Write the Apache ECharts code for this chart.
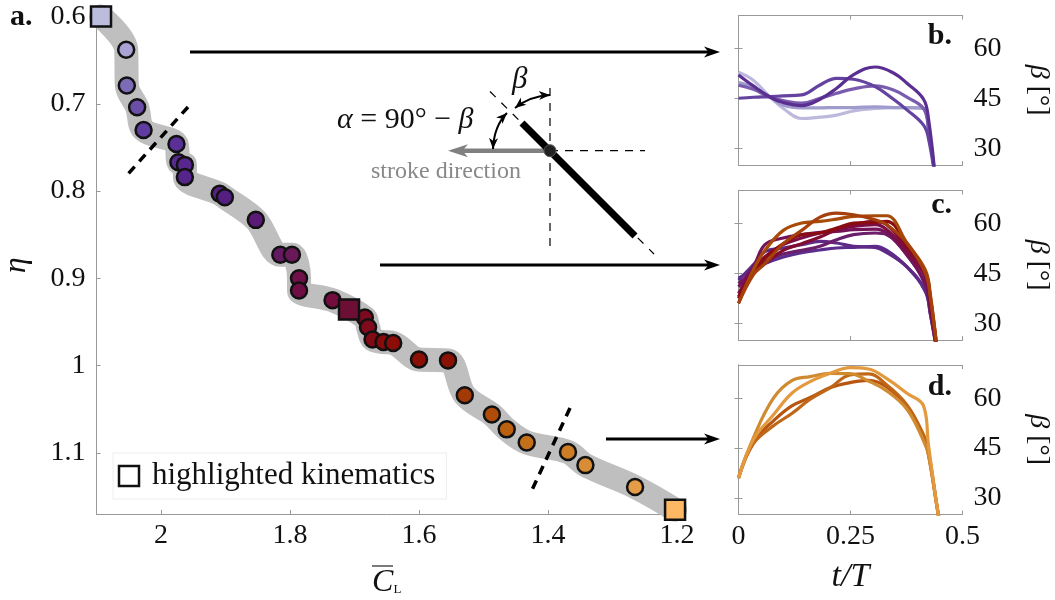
<!DOCTYPE html>
<html><head><meta charset="utf-8">
<style>html,body{margin:0;padding:0;background:#fff}#c{width:1055px;height:600px}</style>
<script src="https://cdn.jsdelivr.net/npm/echarts@6/dist/echarts.min.js"></script>
</head><body><div id="c"></div>
<script>
const FONT = '"Liberation Serif"';
// main panel
const cl = [2.054,2.053,2.037,2.027,1.976,1.973,1.963,1.963,1.909,1.901,1.853,1.815,1.797,1.786,1.786,1.734,1.684,1.679,1.672,1.655,1.640,1.600,1.555,1.529,1.487,1.464,1.433,1.369,1.342,1.265];
const eta = [.638,.679,.704,.730,.746,.767,.770,.784,.803,.807,.833,.873,.873,.900,.914,.925,.945,.956,.970,.973,.974,.993,.994,1.034,1.056,1.073,1.088,1.099,1.114,1.139];
const pointColors = ['#a8a3d2','#7d6bb5','#6a4ea8','#5f3da0','#5a2f96','#58298f','#57278d','#56258b','#562085','#551f82','#5a1a75','#641a60','#6a1858','#6f1048','#6f0e44','#730d3f','#7f0a20','#810a1c','#820a14','#880a0a','#8b0c08','#8c0f05','#8a1202','#a33a06','#b04c08','#bb5f10','#c4701a','#cd7d25','#d88c33','#e59c47'];
const squareCl = [2.093,1.7085,1.203];
const squareEta = [.6,.9356,1.165];
const squareColors = ['#bcbddc','#6d0f35','#fdb863'];
const clTicks = [2,1.8,1.6,1.4,1.2];
const etaTicks = [.6,.7,.8,.9,1,1.1];
const betaTicks = [30,45,60];
const tTicks = [0,.25,.5];
// panel b
const tB = [0,.033,.071,.1,.141,.182,.219,.257,.305,.346,.376,.413,.424,.44];
const b1 = [52.9,50.5,45.4,42,39,39.4,40,41.3,42,42.3,42.3,42,36,20];
const b2 = [49.8,48.4,45.4,43,42.2,42.2,42.3,42.3,42.5,42.3,42.3,42,36,20];
const b3 = [49,47.8,45.4,44.4,43.6,45.1,46.6,47.9,48.8,47.6,45.4,42,36,20];
const b4 = [45.1,45.4,45.6,45.8,46.1,49.1,51.1,50.8,48.6,44.8,41.6,37,33,20];
const b5 = [52.1,48.8,45.4,43.8,42.9,44.8,48.1,52.2,54.5,52.7,49.6,44.8,39,20];
const bColors = ['#bcb9dd','#9f9bcc','#7a5cae','#6443a0','#5b2f91'];
// panel c
const tC = [0,.033,.059,.1,.141,.182,.219,.257,.305,.331,.376,.417,.428,.445];
const c1 = [43.6,46.1,48,50,51.3,52.1,52.7,52.9,53.2,52,47,39.6,33,20];
const c2 = [43,47.6,51.6,52.7,53.7,54.7,54.2,53.2,52.9,51.3,47,40,33,20];
const c3 = [42,45.6,48.6,50.9,52,53.2,55.2,56.7,57.2,56.7,50.6,41.6,34,20];
const c4 = [41,46.9,53.7,55.7,56.7,57.4,57.7,58.2,58.4,57.2,50.6,42.1,35,20];
const c5 = [39,46.1,50.1,53.7,55.7,57.2,58.2,59.2,59.7,58.2,51.6,44,36,20];
const c6 = [38,45.1,48,52,54,56,58.2,59.7,60.7,59.7,52.6,45.1,37,20];
const c7 = [37.5,45.6,49.6,54,56.7,57.2,58.7,60.2,60.4,60.7,53.7,45.6,38,20];
const c8 = [36,46.1,52,58,60.2,60.7,61.4,62.2,62.4,62.4,54.2,46.1,39,20];
const c9 = [36,44.6,48,54,58,62,63.2,62.7,61.2,59.7,54.2,45.1,38,20];
const cColors = ['#5b2d8e','#5e2a85','#6b1f6b','#74125a','#7a0e48','#800c30','#8a0c10','#a84a08','#a5400c'];
// panel d
const tD = [0,.033,.078,.119,.160,.205,.249,.290,.331,.376,.413,.424,.446,.46];
const d1 = [36,46.9,53.2,57.7,60.2,63.2,64.7,65.4,63.4,57.2,48.1,43,25,15];
const d2 = [36,46.3,51.7,55.4,59.7,63.2,67,67.3,64,58,49,44,25,15];
const d3 = [36,48,60,65.3,66.5,67.5,67.4,65.2,62.2,56.7,47.2,43,25,15];
const d4 = [36,47.5,55,61.5,65,67.5,69.2,68.8,65.9,61.5,57.7,46,25,15];
const dColors = ['#b8560f','#bf6716','#d08a30','#e39a3e'];

const black = '#000';
const axisGray = '#999';
const labelStyle = {color:'#111',fontFamily:FONT,fontSize:28};
const G = [];
function line(x1,y1,x2,y2,w,color,dash){
  G.push({type:'line',z:100,shape:{x1,y1,x2,y2},style:{stroke:color||black,lineWidth:w,lineDash:dash||null,fill:null}});
}
function head(x,y,ang,len,hw,color){
  const c=Math.cos(ang),s=Math.sin(ang);
  const bx=x-c*len,by=y-s*len, mx=x-c*len*.72,my=y-s*len*.72;
  G.push({type:'polygon',z:101,shape:{points:[[x,y],[bx-s*hw,by+c*hw],[mx,my],[bx+s*hw,by-c*hw]]},style:{fill:color||black,stroke:null}});
}
function text(x,y,t,font,fill,align,rich){
  const style={text:t,font,fill:fill||'#111',textAlign:align||'left',textVerticalAlign:'middle'};
  if(rich) style.rich=rich;
  G.push({type:'text',z:102,x,y,style});
}
function arc(x1,y1,cx,cy,x2,y2){
  G.push({type:'bezierCurve',z:100,shape:{x1,y1,x2,y2,cpx1:cx,cpy1:cy},style:{stroke:black,lineWidth:2,fill:null}});
  head(x1,y1,Math.atan2(y1-cy,x1-cx),11,4.5);
  head(x2,y2,Math.atan2(y2-cy,x2-cx),11,4.5);
}
// long arrows
[[190,52,720],[380,265,720],[606,439,720]].forEach(a=>{line(a[0],a[1],a[2]-10,a[1],3);head(a[2],a[1],0,16,5.5);});
// separators
line(188,107,128,174,3.5,black,[9,7]);
line(570,408,532,490,3.5,black,[9,7]);
// wing diagram
line(490,91.5,654,254,1.2,black,[8,8]);
line(550,88,550,250,1.2,black,[8,7]);
line(550,150.7,645,150.7,1.2,black,[8,7]);
line(550,150.7,460,150.7,4.5,'#808080');
head(448,150.7,Math.PI,20,6.5,'#808080');
line(522,123,635,236,7);
G.push({type:'circle',z:103,shape:{cx:550,cy:150.7,r:6},style:{fill:'#222',stroke:'#555',lineWidth:1}});
arc(515,108,530,96,550,95);
arc(507,113,494,126,493,149);
text(337,120,'{i|α} = 90° − {i|β}','30px '+FONT,'#111','left',{i:{font:'italic 30px '+FONT,fill:'#111'}});
text(512,80,'β','italic 31px '+FONT);
text(371,172,'stroke direction','24px '+FONT,'#888');
// legend
G.push({type:'rect',z:99,shape:{x:113,y:453,width:333.5,height:46},style:{fill:'#fff',stroke:'#eee',lineWidth:1}});
G.push({type:'rect',z:100,shape:{x:119,y:466,width:20,height:20},style:{fill:'#fff',stroke:'#111',lineWidth:2.5}});
text(152,476,'highlighted kinematics','31px '+FONT);
// panel labels
text(10,17,'a.','bold 30px '+FONT);
text(952,36,'b.','bold 30px '+FONT,'#111','right');
text(952,205,'c.','bold 30px '+FONT,'#111','right');
text(952,387,'d.','bold 30px '+FONT,'#111','right');
// overbar for the lift coefficient
line(372,566,393,566,1.2,'#222');

const grids=[{left:96.5,top:16.5,width:580.5,height:497.5,outerBoundsMode:'none'}];
const xAxes=[{gridIndex:0,type:'value',inverse:true,min:1.2,max:2.1,position:'bottom',
  axisLine:{lineStyle:{color:axisGray,width:1}},splitLine:{show:false},
  axisTick:{inside:true,length:4,lineStyle:{color:axisGray},customValues:clTicks},
  axisLabel:{...labelStyle,margin:8,customValues:clTicks,formatter:v=>String(+v.toFixed(1))},
  name:'{c|C}{s|L}',nameLocation:'middle',nameGap:53,
  nameTextStyle:{rich:{c:{fontFamily:FONT,fontStyle:'italic',fontSize:32,color:'#111'},s:{fontFamily:FONT,fontSize:13,color:'#111',padding:[14,0,0,0]}}}}];
const yAxes=[{gridIndex:0,type:'value',inverse:true,min:.6,max:1.17,position:'left',
  axisLine:{lineStyle:{color:axisGray,width:1}},splitLine:{show:false},
  axisTick:{inside:true,length:4,lineStyle:{color:axisGray},customValues:etaTicks},
  axisLabel:{...labelStyle,margin:11,customValues:etaTicks,formatter:v=>String(+v.toFixed(1))},
  name:'η',nameLocation:'middle',nameGap:64,nameRotate:90,
  nameTextStyle:{fontFamily:FONT,fontStyle:'italic',fontSize:32,color:'#111'}}];
const series=[];
const band=[[squareCl[0],squareEta[0]],...cl.map((v,i)=>[v,eta[i]]),[squareCl[2],squareEta[2]]];
series.push({type:'line',xAxisIndex:0,yAxisIndex:0,data:band,showSymbol:false,smooth:.35,clip:false,silent:true,z:1,
  lineStyle:{color:'#bfbfbf',width:24,cap:'round',join:'round'}});
series.push({type:'scatter',xAxisIndex:0,yAxisIndex:0,clip:false,z:3,symbol:'circle',symbolSize:16,
  data:cl.map((v,i)=>({value:[v,eta[i]],itemStyle:{color:pointColors[i],opacity:1,borderColor:'#111',borderWidth:2.5}}))});
series.push({type:'scatter',xAxisIndex:0,yAxisIndex:0,clip:false,z:4,symbol:'rect',symbolSize:20,
  data:squareCl.map((v,i)=>({value:[v,squareEta[i]],itemStyle:{color:squareColors[i],opacity:1,borderColor:'#111',borderWidth:2.5}}))});

function panel(top,t,curves,colors,isLast){
  const g=grids.length;
  grids.push({left:738.5,top,width:224,height:149.5,outerBoundsMode:'none'});
  const frame={lineStyle:{color:axisGray,width:1}};
  const tick={inside:true,length:4,lineStyle:{color:axisGray}};
  const xi=xAxes.length,yi=yAxes.length;
  xAxes.push({gridIndex:g,type:'value',min:0,max:.5,position:'bottom',axisLine:frame,splitLine:{show:false},
    axisTick:{...tick,customValues:tTicks},
    axisLabel:isLast?{...labelStyle,margin:8,customValues:tTicks,formatter:v=>String(v)}:{show:false},
    name:isLast?'t/T':'',nameLocation:'middle',nameGap:46,
    nameTextStyle:{fontFamily:FONT,fontStyle:'italic',fontSize:34,color:'#111'}});
  xAxes.push({gridIndex:g,type:'value',min:0,max:.5,position:'top',axisLine:frame,splitLine:{show:false},
    axisTick:{...tick,customValues:tTicks},axisLabel:{show:false}});
  yAxes.push({gridIndex:g,type:'value',min:25,max:70,position:'right',axisLine:frame,splitLine:{show:false},
    axisTick:{...tick,customValues:betaTicks},
    axisLabel:{...labelStyle,margin:11,customValues:betaTicks},
    name:'{i|β} [°]',nameLocation:'middle',nameRotate:-90,nameGap:62,
    nameTextStyle:{fontFamily:FONT,fontSize:28,color:'#111',rich:{i:{fontFamily:FONT,fontStyle:'italic',fontSize:28,color:'#111'}}}});
  yAxes.push({gridIndex:g,type:'value',min:25,max:70,position:'left',axisLine:frame,splitLine:{show:false},
    axisTick:{...tick,customValues:betaTicks},axisLabel:{show:false}});
  curves.forEach((c,i)=>series.push({type:'line',xAxisIndex:xi,yAxisIndex:yi,showSymbol:false,smooth:.4,clip:true,z:2,
    data:t.map((v,k)=>[v,c[k]]),lineStyle:{color:colors[i],width:3.2}}));
}
panel(15.5,tB,[b1,b2,b3,b4,b5],bColors,false);
panel(190.5,tC,[c1,c2,c3,c4,c5,c6,c7,c8,c9],cColors,false);
panel(365,tD,[d1,d2,d3,d4],dColors,true);

const chart=echarts.init(document.getElementById('c'),null,{renderer:'canvas'});
chart.setOption({animation:false,backgroundColor:'#fff',tooltip:{show:false},grid:grids,xAxis:xAxes,yAxis:yAxes,series,graphic:G});
</script></body></html>
